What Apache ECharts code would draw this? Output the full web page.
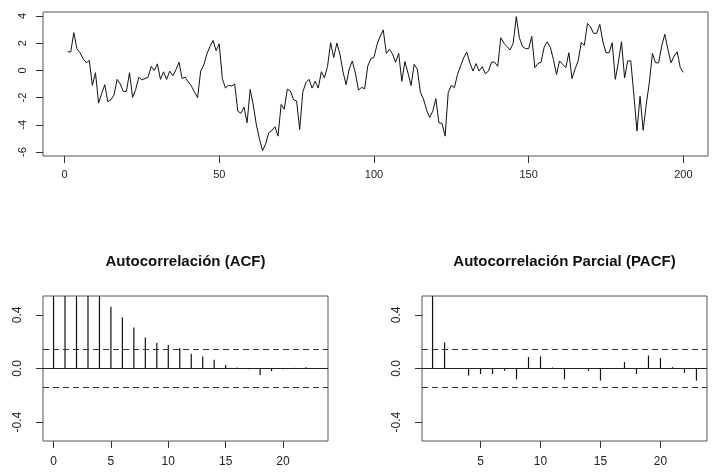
<!DOCTYPE html>
<html>
<head>
<meta charset="UTF-8">
<title>Serie, ACF y PACF</title>
<script src="https://cdn.jsdelivr.net/npm/echarts@6/dist/echarts.min.js"></script>
<style>
  html, body { margin: 0; padding: 0; background: #fff; }
  #chart { width: 712px; height: 475px; }
</style>
</head>
<body>
<div id="chart"></div>
<script>
  // serie simulada (t = 1..200)
  var serie = [
    1.37, 1.35, 2.77, 1.6, 1.3, 0.87, 0.56, 0.73, -1.1, -0.17,
    -2.4, -1.7, -1.05, -2.3, -2.15, -1.8, -0.66, -1.0, -1.55, -1.55,
    -0.17, -1.98, -1.4, -0.5, -0.7, -0.6, -0.5, 0.3, 0.0, 0.48,
    -0.66, -0.1, -0.66, -0.05, -0.4, 0.05, 0.6, -0.6, -0.5, -0.85,
    -1.15, -1.6, -2.0, -0.05, 0.4, 1.2, 1.75, 2.2, 1.45, 1.95,
    -0.6, -1.3, -1.1, -1.15, -1.0, -3.0, -3.15, -2.7, -3.85, -1.4,
    -2.55, -4.0, -5.05, -5.9, -5.4, -4.58, -4.4, -4.14, -4.83, -2.5,
    -2.85, -1.38, -1.52, -2.15, -2.25, -4.34, -1.6, -0.9, -0.66, -1.3,
    -0.8, -1.3, -0.1, -0.54, 0.3, 2.03, 0.95, 2.0, 1.2, -0.1,
    -1.05, 0.1, 0.69, -0.2, -1.45, -1.25, -1.35, 0.32, 0.86, 0.95,
    1.9, 2.5, 2.97, 1.25, 1.55, 1.2, 0.6, 1.25, -0.8, 0.65,
    -0.2, -1.1, 0.45, 0.1, -1.6, -2.1, -2.9, -3.45, -3.0, -2.08,
    -3.85, -3.9, -4.83, -1.64, -1.1, -1.27, -0.3, 0.32, 0.93, 1.35,
    0.56, -0.05, 0.5, -0.05, 0.27, -0.25, -0.05, 0.6, 0.6, 0.3,
    2.4, 2.0, 1.75, 1.5, 2.0, 3.95, 2.4, 1.75, 1.6, 1.6,
    2.5, 0.2, 0.5, 0.6, 1.7, 2.1, 1.7, 0.8, -0.3, 0.69,
    0.44, 0.2, 1.3, -0.6, 0.1, 0.7, 2.05, 1.84, 3.45, 3.2,
    2.72, 2.72, 3.38, 2.1, 1.3, 1.3, 2.03, -0.66, 0.6, 2.1,
    -0.55, 0.69, 0.7, -1.8, -4.45, -1.9, -4.4, -2.5, -0.9, 1.25,
    0.56, 0.56, 1.8, 2.65, 1.55, 0.56, 1.05, 1.37, 0.2, -0.15
  ];

  var acfLags = [0, 1, 2, 3, 4, 5, 6, 7, 8, 9, 10, 11, 12, 13, 14, 15, 16, 17, 18, 19, 20, 21, 22, 23];
  var acfValues = [1.0, 0.89, 0.78, 0.67, 0.57, 0.46, 0.38, 0.305, 0.23, 0.19, 0.175, 0.15,
                   0.11, 0.09, 0.065, 0.027, 0.008, -0.005, -0.05, -0.02, -0.005, 0.005, 0.01, 0.002];

  var pacfLags = [1, 2, 3, 4, 5, 6, 7, 8, 9, 10, 11, 12, 13, 14, 15, 16, 17, 18, 19, 20, 21, 22, 23];
  var pacfValues = [0.89, 0.194, 0.004, -0.053, -0.041, -0.041, -0.017, -0.08, 0.085, 0.09, 0.007,
                    -0.08, -0.003, -0.017, -0.09, 0.002, 0.048, -0.041, 0.097, 0.078, 0.01, -0.032, -0.09];

  var confLimit = 0.1386;

  var serieXTicks = [0, 50, 100, 150, 200];
  var serieYTicks = [-6, -4, -2, 0, 2, 4];
  var acfXTicks = [0, 5, 10, 15, 20];
  var pacfXTicks = [5, 10, 15, 20];
  var corrTicks = [-0.4, 0.0, 0.4];

  var titleAcf = 'Autocorrelación (ACF)';
  var titlePacf = 'Autocorrelación Parcial (PACF)';

  var serieData = serie.map(function (v, i) { return [i + 1, v]; });
  var acfData = acfLags.map(function (l, i) { return [l, acfValues[i]]; });
  var pacfData = pacfLags.map(function (l, i) { return [l, pacfValues[i]]; });

  var txt = '#222';
  var lineCol = '#333';
  var font = 'Liberation Sans, Arial, sans-serif';

  function xAx(idx, min, max, ticks, margin, size) {
    return {
      type: 'value', gridIndex: idx, min: min, max: max,
      axisLine: { show: false, onZero: false },
      splitLine: { show: false },
      axisTick: { show: true, length: 7, customValues: ticks, lineStyle: { color: lineCol } },
      axisLabel: { customValues: ticks, margin: margin, color: txt, fontSize: size, fontFamily: font }
    };
  }
  function yAx(idx, min, max, ticks, fmt, size, margin) {
    return {
      type: 'value', gridIndex: idx, min: min, max: max,
      axisLine: { show: false, onZero: false },
      splitLine: { show: false },
      axisTick: { show: true, length: 7, customValues: ticks, lineStyle: { color: lineCol } },
      axisLabel: { customValues: ticks, margin: margin, rotate: 90, color: txt, fontSize: size,
                   fontFamily: font, formatter: fmt }
    };
  }
  var fmt1 = function (v) { return v.toFixed(1); };
  var fmt0 = function (v) { return String(v); };

  function refLines() {
    return {
      silent: true, symbol: ['none', 'none'], label: { show: false }, animation: false,
      data: [
        { yAxis: 0, lineStyle: { type: 'solid', color: '#222', width: 1 } },
        { yAxis: confLimit, lineStyle: { type: [6, 4], color: lineCol, width: 1.2 } },
        { yAxis: -confLimit, lineStyle: { type: [6, 4], color: lineCol, width: 1.2 } }
      ]
    };
  }

  var chart = echarts.init(document.getElementById('chart'));
  chart.setOption({
    animation: false,
    backgroundColor: '#fff',
    title: [
      { text: titleAcf, left: 185.5, top: 254, textAlign: 'center', padding: 0,
        textStyle: { fontSize: 15, fontWeight: 'bold', color: '#111', fontFamily: font } },
      { text: titlePacf, left: 564.5, top: 254, textAlign: 'center', padding: 0,
        textStyle: { fontSize: 15, fontWeight: 'bold', color: '#111', fontFamily: font } }
    ],
    grid: [
      { left: 43, top: 12, width: 665, height: 144, show: true, borderColor: '#555', borderWidth: 1 },
      { left: 43, top: 296, width: 285, height: 145, show: true, borderColor: '#555', borderWidth: 1 },
      { left: 422, top: 296, width: 285, height: 145, show: true, borderColor: '#555', borderWidth: 1 }
    ],
    xAxis: [
      xAx(0, -6.96, 207.96, serieXTicks, 13, 11),
      xAx(1, -0.92, 23.92, acfXTicks, 15, 12),
      xAx(2, 0.12, 23.88, pacfXTicks, 15, 12)
    ],
    yAxis: [
      yAx(0, -6.29, 4.29, serieYTicks, fmt0, 11, 15),
      yAx(1, -0.54, 0.54, corrTicks, fmt1, 12, 19),
      yAx(2, -0.54, 0.54, corrTicks, fmt1, 12, 19)
    ],
    series: [
      { type: 'line', xAxisIndex: 0, yAxisIndex: 0, data: serieData, symbol: 'none',
        lineStyle: { color: '#111', width: 1 }, clip: true },
      { type: 'bar', xAxisIndex: 1, yAxisIndex: 1, data: acfData, barWidth: 1.2, clip: true,
        itemStyle: { color: '#111' }, markLine: refLines() },
      { type: 'bar', xAxisIndex: 2, yAxisIndex: 2, data: pacfData, barWidth: 1.2, clip: true,
        itemStyle: { color: '#111' }, markLine: refLines() }
    ]
  });
</script>
</body>
</html>
